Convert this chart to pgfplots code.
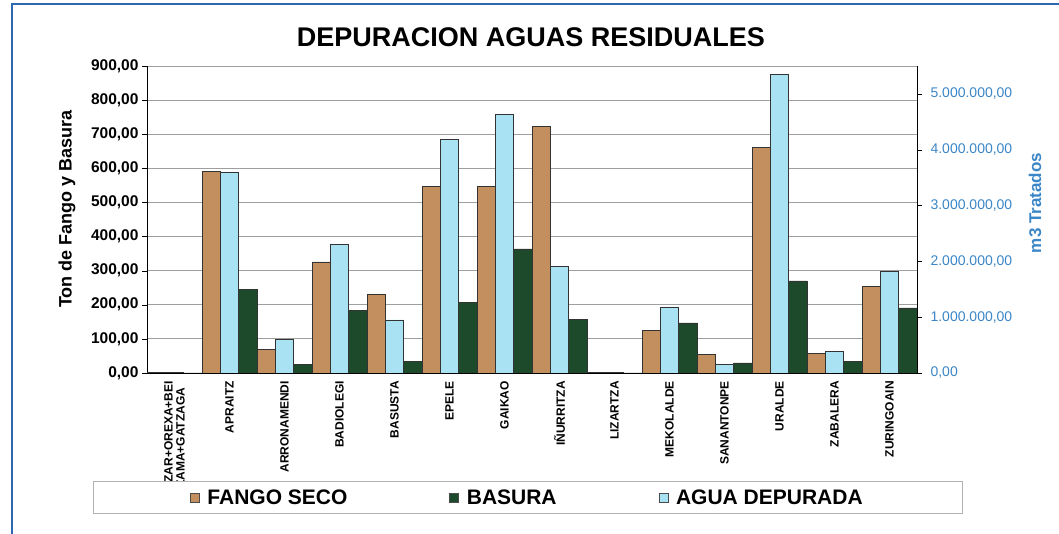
\documentclass[border=0pt]{standalone}
\usepackage{fontspec}
\setmainfont{Liberation Sans}
\usepackage{pgfplots}
\pgfplotsset{compat=1.18}
\definecolor{fango}{HTML}{C38F5E}
\definecolor{basura}{HTML}{1C4A2B}
\definecolor{agua}{HTML}{A9E2F2}
\definecolor{rightblue}{HTML}{3B86C6}
\definecolor{framecol}{HTML}{2E67B1}
\begin{document}
\begin{tikzpicture}[x=1pt,y=1pt]
\path[use as bounding box] (0,0) rectangle (1059,534);
\draw[framecol, line width=2.5pt] (12,0) -- (12,530) -- (1059,530);
\node[font=\fontsize{27}{32}\selectfont\bfseries] at (531,497) {DEPURACION AGUAS RESIDUALES};
\node[rotate=90, font=\fontsize{18}{20}\selectfont\bfseries] at (67,325) {Ton de Fango y Basura};
\node[rotate=90, font=\fontsize{17}{20}\selectfont\bfseries, text=rightblue] at (1035,331) {m3 Tratados};

\begin{axis}[
  at={(147pt,161pt)}, anchor=south west, scale only axis,
  width=770pt, height=307pt,
  xmin=-0.5, xmax=13.5, ymin=0, ymax=900,
  axis y line*=left, axis x line*=bottom, axis line style={-, black},
  ytick={0,100,...,900},
  ymajorgrids, grid style={gray!75, line width=0.8pt},
  tick align=outside, major tick length=5pt,
  xtick={0,...,13},
  xticklabels={{AIZAR+OREXA+BEI\\ZAMA+GATZAGA},APRAITZ,ARRONAMENDI,BADIOLEGI,BASUSTA,EPELE,GAIKAO,IÑURRITZA,LIZARTZA,MEKOLALDE,SANANTONPE,URALDE,ZABALERA,ZURINGOAIN},
  xtick style={draw=none},
  ytick style={black},
  x tick label style={rotate=90, anchor=east, align=center, font=\fontsize{12}{12}\selectfont\bfseries, inner sep=1pt, xshift=-2pt},
  y tick label style={font=\fontsize{15.5}{17}\selectfont\bfseries},
  yticklabel style={/pgf/number format/.cd, fixed, fixed zerofill, precision=2, use comma, 1000 sep={.}, assume math mode=true},
]
\addplot[ybar, bar width=18.33pt, bar shift=-18.33pt, fill=fango, draw=black!80] coordinates {
(0,1) (1,591) (2,69) (3,326) (4,230) (5,547) (6,547) (7,724) (8,1) (9,126) (10,54) (11,662) (12,57) (13,253)};
\addplot[ybar, bar width=18.33pt, bar shift=18.33pt, fill=basura, draw=black!80] coordinates {
(0,0) (1,246) (2,26) (3,184) (4,34) (5,207) (6,364) (7,158) (8,0) (9,147) (10,30) (11,270) (12,34) (13,191)};
\end{axis}

\begin{axis}[
  at={(147pt,161pt)}, anchor=south west, scale only axis,
  width=770pt, height=307pt,
  xmin=-0.5, xmax=13.5, ymin=0, ymax=5500000,
  axis y line*=right, axis x line=none, axis line style={-, black},
  ytick={0,1000000,2000000,3000000,4000000,5000000},
  scaled y ticks=false,
  tick align=outside, major tick length=5pt,
  ytick style={black},
  y tick label style={font=\fontsize{14}{16}\selectfont, text=rightblue, xshift=5pt},
  yticklabel style={/pgf/number format/.cd, fixed, fixed zerofill, precision=2, use comma, 1000 sep={.}, assume math mode=true},
  legend columns=3,
  legend image code/.code={\draw[#1,draw=gray!60!black] (0pt,-4.5pt) rectangle (9pt,4.5pt);},
  legend style={at={(0.494,-0.4055)}, anchor=center, draw=gray!60, fill=white,
    font=\fontsize{21}{24}\selectfont\bfseries, inner xsep=97pt, inner ysep=6pt,
    /tikz/every odd column/.append style={column sep=6pt},
    /tikz/every even column/.append style={column sep=100pt}},
]
\addplot[ybar, bar width=18.33pt, bar shift=0pt, fill=agua, draw=black!80, forget plot] coordinates {
(0,15000) (1,3595000) (2,600000) (3,2310000) (4,950000) (5,4180000) (6,4630000) (7,1905000) (8,15000) (9,1186000) (10,156000) (11,5350000) (12,390000) (13,1815000)};
\addlegendimage{fill=fango}
\addlegendentry{FANGO SECO}
\addlegendimage{fill=basura}
\addlegendentry{BASURA}
\addlegendimage{fill=agua}
\addlegendentry{AGUA DEPURADA}
\end{axis}
\end{tikzpicture}
\end{document}
